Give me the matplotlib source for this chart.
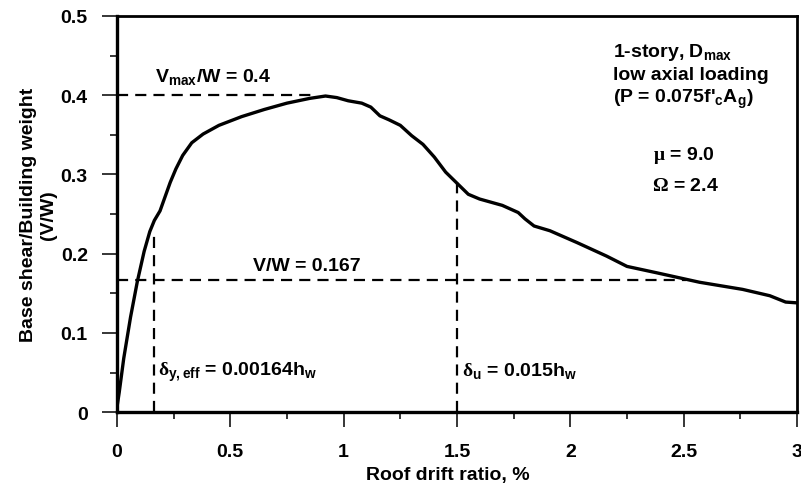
import numpy as np
import matplotlib as mpl
mpl.use('Agg')
import matplotlib.pyplot as plt

# pushover curve
drift = [0.0, 0.01, 0.03, 0.06, 0.09, 0.12, 0.145, 0.165, 0.19, 0.21,
         0.235, 0.26, 0.29, 0.33, 0.38, 0.45, 0.55, 0.65, 0.75, 0.85,
         0.92, 0.97, 1.02, 1.08, 1.12, 1.16, 1.2, 1.25, 1.3, 1.35,
         1.4, 1.45, 1.5, 1.55, 1.6, 1.7, 1.77, 1.8, 1.84, 1.91,
         2.03, 2.16, 2.25, 2.38, 2.57, 2.76, 2.88, 2.95, 3.0]
shear = [0.006, 0.025, 0.068, 0.12, 0.165, 0.203, 0.228, 0.242, 0.254, 0.27,
         0.29, 0.307, 0.324, 0.340, 0.351, 0.362, 0.373, 0.382, 0.390, 0.396,
         0.399, 0.397, 0.393, 0.390, 0.385, 0.374, 0.369, 0.362, 0.349, 0.338,
         0.322, 0.303, 0.289, 0.275, 0.269, 0.261, 0.252, 0.244, 0.235, 0.229,
         0.214, 0.197, 0.184, 0.176, 0.164, 0.155, 0.147, 0.139, 0.138]

v_max = 0.4
v_design = 0.167
drift_y_eff = 0.164
drift_u = 1.5

x_ticks = [0, 0.5, 1, 1.5, 2, 2.5, 3]
x_tick_labels = ['0', '0.5', '1', '1.5', '2', '2.5', '3']
y_ticks = [0, 0.1, 0.2, 0.3, 0.4, 0.5]
y_tick_labels = ['0', '0.1', '0.2', '0.3', '0.4', '0.5']

plt.rcParams['font.family'] = ['Liberation Sans', 'DejaVu Sans']
plt.rcParams['font.weight'] = 'bold'
plt.rcParams['mathtext.fontset'] = 'custom'
plt.rcParams['mathtext.rm'] = 'Liberation Sans:bold'
plt.rcParams['mathtext.bf'] = 'Liberation Sans:bold'
plt.rcParams['mathtext.it'] = 'Liberation Sans:bold'
plt.rcParams['mathtext.sf'] = 'Liberation Serif'

fig = plt.figure(figsize=(8.01, 4.85), dpi=100)
ax = fig.add_axes([0.146, 0.148, 0.849, 0.817])

ax.plot(drift, shear, color='black', lw=2.4, solid_capstyle='round',
        solid_joinstyle='round', zorder=3)

# reference lines
dash = dict(color='black', lw=1.6, dashes=(5, 3.2), zorder=2)
ax.plot([0, 0.88], [v_max, v_max], **dash)
ax.plot([0, 2.51], [v_design, v_design], **dash)
ax.plot([drift_y_eff, drift_y_eff], [0, 0.23], **dash)
ax.plot([drift_u, drift_u], [0, 0.29], **dash)

fs = 14
ax.text(0.168, 0.418, r'V$_{\mathregular{max}}$/W = 0.4', fontsize=fs, va='baseline')
ax.text(0.6, 0.18, 'V/W = 0.167', fontsize=fs, va='baseline')
ax.text(0.18, 0.047, r'$\mathsf{\delta}_{\mathregular{y,eff}}$ = 0.00164h$_{\mathregular{w}}$',
        fontsize=fs, va='baseline')
ax.text(1.52, 0.047, r'$\mathsf{\delta}_{\mathregular{u}}$ = 0.015h$_{\mathregular{w}}$',
        fontsize=fs, va='baseline')

ax.text(2.19, 0.449, r'1-story, D$_{\mathregular{max}}$', fontsize=fs, va='baseline')
ax.text(2.19, 0.421, 'low axial loading', fontsize=fs, va='baseline')
ax.text(2.19, 0.392, r"(P = 0.075f'$_{\mathregular{c}}$A$_{\mathregular{g}}$)",
        fontsize=fs, va='baseline')
ax.text(2.365, 0.32, r'$\mathsf{\mu}$ = 9.0', fontsize=fs, va='baseline')
ax.text(2.36, 0.281, r'$\mathsf{\Omega}$ = 2.4', fontsize=fs, va='baseline')

ax.set_xlim(0, 3)
ax.set_ylim(0, 0.5)
ax.set_xticks(x_ticks)
ax.set_xticklabels(x_tick_labels)
ax.set_yticks(y_ticks)
ax.set_yticklabels(y_tick_labels)
ax.set_xticks(np.arange(0, 3.01, 0.25), minor=True)
ax.set_yticks(np.arange(0, 0.501, 0.05), minor=True)
ax.tick_params(which='major', direction='out', length=11, width=1.1,
               labelsize=14, pad=10)
ax.tick_params(which='minor', direction='out', length=5, width=1.1)
ax.tick_params(axis='x', which='major', pad=11)

for side in ['left', 'bottom']:
    ax.spines[side].set_linewidth(2.4)
for side in ['top', 'right']:
    ax.spines[side].set_linewidth(2.0)

ax.set_xlabel('Roof drift ratio, %', fontsize=14, fontweight='bold')
ax.xaxis.set_label_coords(0.487, -0.135)
ax.set_ylabel('Base shear/Building weight\n(V/W)', fontsize=14,
              fontweight='bold', linespacing=1.25)
ax.yaxis.set_label_coords(-0.088, 0.5)

plt.savefig('out.png', dpi=100)
plt.close()
